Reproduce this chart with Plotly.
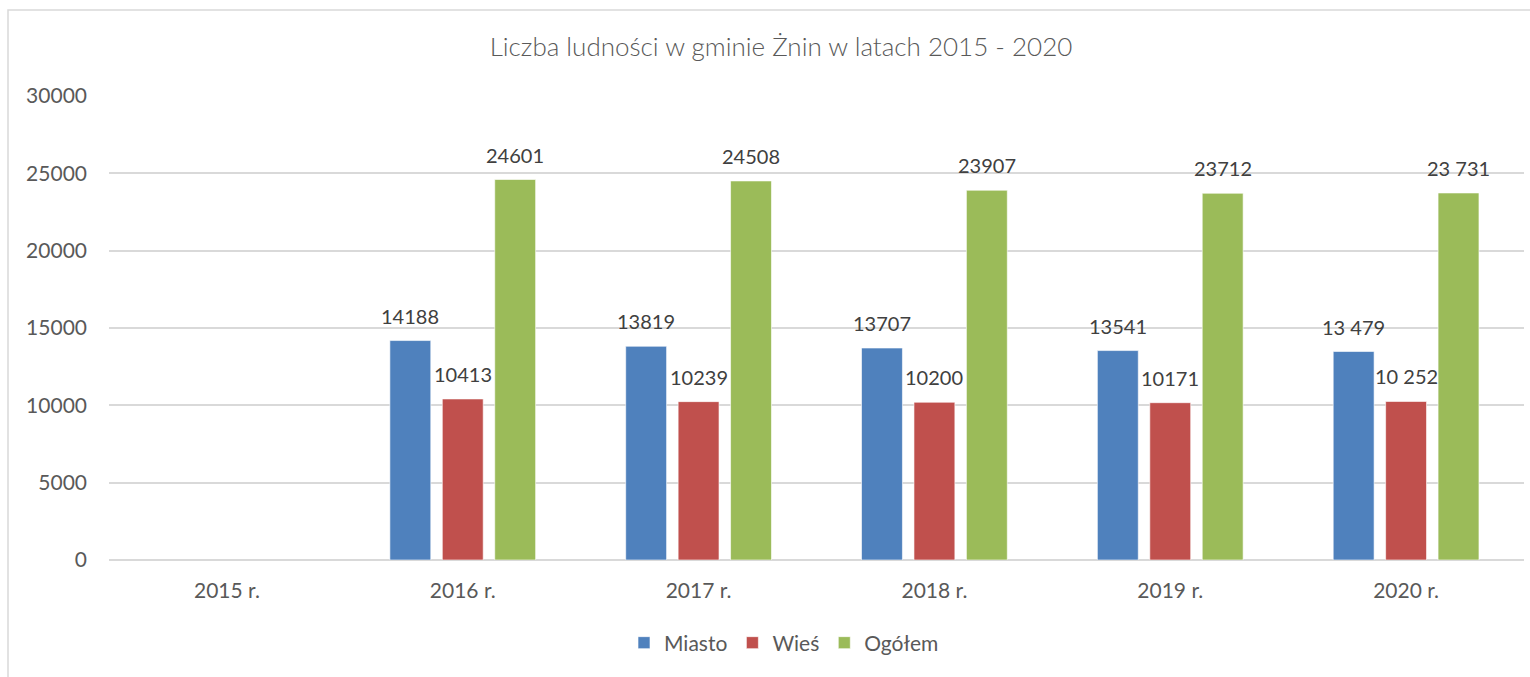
import plotly.graph_objects as go

categories = ["2015 r.", "2016 r.", "2017 r.", "2018 r.", "2019 r.", "2020 r."]
miasto = [None, 14188, 13819, 13707, 13541, 13479]
wies = [None, 10413, 10239, 10200, 10171, 10252]
ogolem = [None, 24601, 24508, 23907, 23712, 23731]
miasto_labels = ["", "14188", "13819", "13707", "13541", "13 479"]
wies_labels = ["", "10413", "10239", "10200", "10171", "10 252"]
ogolem_labels = ["", "24601", "24508", "23907", "23712", "23 731"]
y_ticks = [0, 5000, 10000, 15000, 20000, 25000, 30000]
y_tick_labels = ["0", "5000", "10000", "15000", "20000", "25000", "30000"]

series = [
    ("Miasto", miasto, miasto_labels, "#4f81bd"),
    ("Wieś", wies, wies_labels, "#c0504d"),
    ("Ogółem", ogolem, ogolem_labels, "#9bbb59"),
]

FONT = "Lato"
fig = go.Figure()
for name, vals, labels, color in series:
    fig.add_trace(go.Bar(
        name=name, x=categories, y=vals, marker_color=color,
        marker_line=dict(color="rgba(255,255,255,0.6)", width=1),
    ))

# value labels above bars
slot_px = 52.5
for i, (name, vals, labels, color) in enumerate(series):
    for c, v, t in zip(categories, vals, labels):
        if v is None:
            continue
        fig.add_annotation(x=c, y=v, text=t, showarrow=False,
                           xshift=(i - 1) * slot_px, yshift=25, yanchor="middle",
                           font=dict(family=FONT, size=20, color="#404040"))

W, H = 1530, 677
L, R, T, B = 109, 6, 96, 117
pw, ph = W - L - R, H - T - B

fig.update_layout(
    width=W, height=H,
    margin=dict(l=L, r=R, t=T, b=B),
    paper_bgcolor="white", plot_bgcolor="white",
    barmode="group", bargap=0.333, bargroupgap=0.22,
    title=dict(text="Liczba ludności w gminie Żnin w latach 2015 - 2020",
               x=781 / W, y=1 - 47 / H, xanchor="center", yanchor="middle",
               font=dict(family=FONT, size=26, color="#595959", weight=300)),
    legend=dict(orientation="h", x=(784 - L) / pw, y=(560 - 643) / ph,
                xanchor="center", yanchor="middle",
                font=dict(family=FONT, size=21, color="#595959"),
                itemwidth=30, traceorder="normal"),
    font=dict(family=FONT, color="#595959"),
    showlegend=True,
)
fig.update_xaxes(showgrid=False, showline=False, ticks="",
                 tickfont=dict(family=FONT, size=21, color="#595959"),
                 ticklabelstandoff=16)
fig.update_yaxes(range=[0, 30000], tickvals=y_ticks, ticktext=y_tick_labels,
                 showgrid=True,
                 gridcolor="#d9d9d9", gridwidth=1.5, zeroline=True,
                 zerolinecolor="#d9d9d9", zerolinewidth=1.5, showline=False,
                 tickfont=dict(family=FONT, size=21, color="#595959"),
                 ticklabelstandoff=21)
# chart border
fig.add_shape(type="rect", xref="paper", yref="paper",
              x0=(8 - L) / pw, x1=(1540 - L) / pw,
              y0=(560 - 700) / ph, y1=(560 - 10) / ph,
              line=dict(color="#d9d9d9", width=1.5), fillcolor="rgba(0,0,0,0)",
              layer="below")

fig.write_html("out.html", config={"displayModeBar": False},
               post_script="document.body.style.margin='0px';document.body.style.overflow='hidden';")
